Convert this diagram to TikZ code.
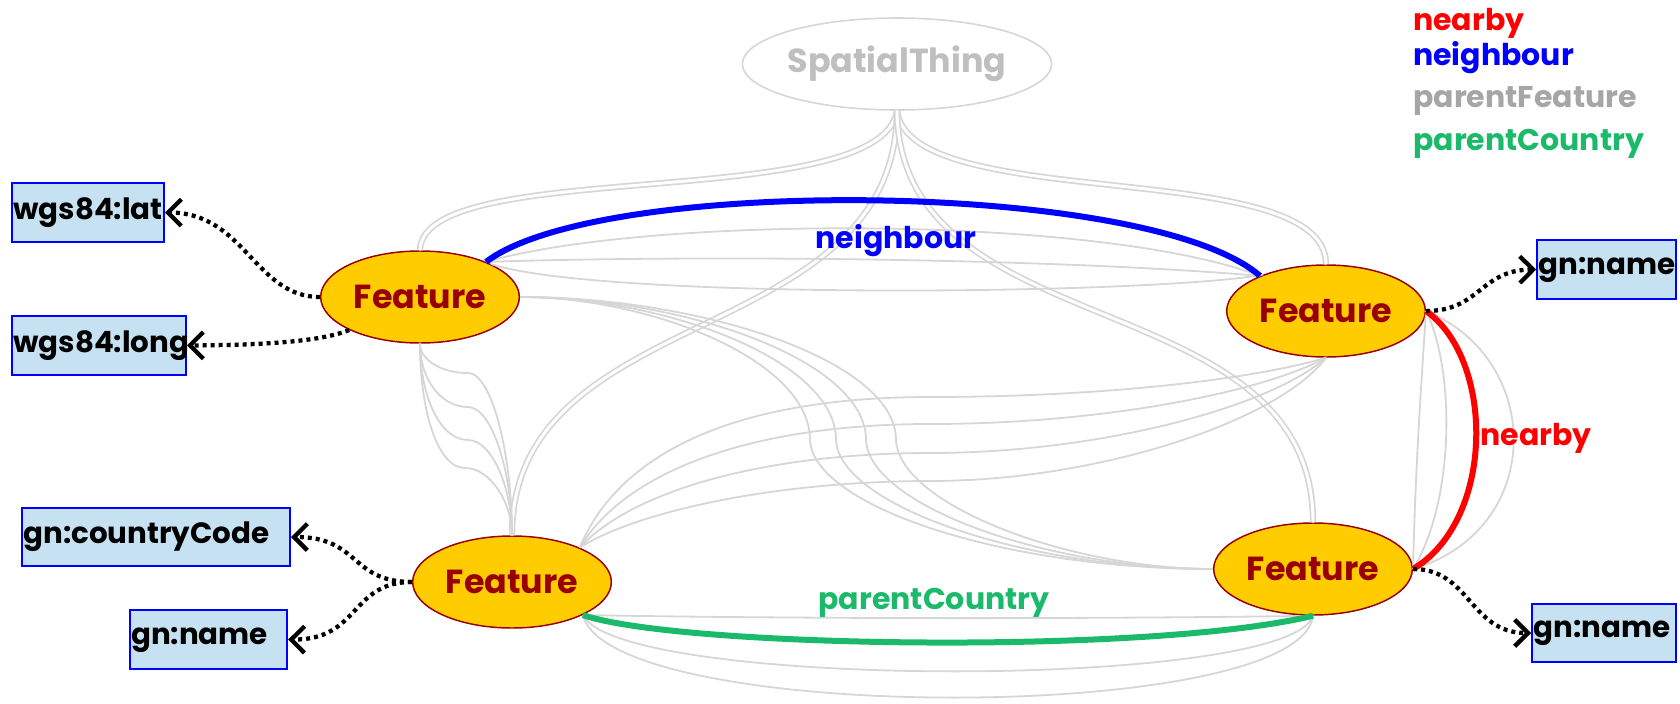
\documentclass[tikz,border=0pt]{standalone}
\usepackage{fontspec}
\setmainfont{Poppins}
\usetikzlibrary{arrows.meta,shapes.geometric}
\definecolor{gold}{HTML}{FFCC00}
\definecolor{dkred}{HTML}{990000}
\definecolor{boxblue}{HTML}{C6E2F2}
\definecolor{lgray}{HTML}{D6D6D6}
\definecolor{mgray}{HTML}{A6A6A6}
\definecolor{stgray}{HTML}{BFBFBF}
\definecolor{pgreen}{HTML}{1BBA6A}
\begin{document}
\begin{tikzpicture}[x=0.75pt,y=-0.75pt,
  feat/.style={ellipse, draw=dkred, line width=1.1pt, fill=gold, minimum width=149pt, minimum height=69pt, inner sep=0pt, text=dkred, font=\bfseries\fontsize{25}{30}\selectfont},
  stnode/.style={ellipse, draw=lgray, line width=1.2pt, fill=white, minimum width=231pt, minimum height=69pt, inner sep=0pt, text=stgray, font=\bfseries\fontsize{25}{30}\selectfont},
  prop/.style={rectangle, draw=blue, line width=1.5pt, fill=boxblue, minimum height=44pt, inner xsep=1pt, align=left, font=\bfseries\fontsize{22}{26}\selectfont},
  lab/.style={font=\bfseries\fontsize{22.5}{27}\selectfont, inner sep=0pt},
  gedge/.style={draw=lgray, line width=1.35pt},
  gpair/.style={draw=lgray, line width=1.3pt, double=white, double distance=2.2pt},
  thick3/.style={line width=4.5pt},
  dotarr/.style={draw=black, line width=3.2pt, dash pattern=on 3pt off 3pt, -{Straight Barb[length=10pt,width=20pt]}}
]
\useasboundingbox (0,0) rectangle (1680,703);

% nodes
\node[stnode] (st) at (897,64) {SpatialThing};
\node[feat] (tl) at (420,297) {Feature};
\node[feat] (tr) at (1326,311) {Feature};
\node[feat] (bl) at (512,582) {Feature};
\node[feat] (br) at (1313,569) {Feature};

\node[prop, text width=112pt] (lat) at (88,212.5) {wgs84:lat};
\node[prop, text width=128.5pt] (long) at (99,345.5) {wgs84:long};
\node[prop, text width=199pt] (cc) at (156,537) {gn:countryCode};
\node[prop, text width=116pt] (blname) at (208.5,639.5) {gn:name};
\node[prop, text width=102pt] (trname) at (1606.5,269.5) {gn:name};
\node[prop, text width=106pt] (brname) at (1604,633) {gn:name};

% legend
\node[lab, anchor=base west, text=red] (lg1) at (1413,30) {nearby};
\node[lab, anchor=base west, text=blue] (lg2) at (1413,65) {neighbour};
\node[lab, anchor=base west, text=mgray] (lg3) at (1413,107) {parentFeature};
\node[lab, anchor=base west, text=pgreen] (lg4) at (1413,150) {parentCountry};

% SpatialThing pairs
\draw[gpair] (st.south) .. controls (880,215) and (422,155) .. (tl.north);
\draw[gpair] (st.south) .. controls (910,215) and (1326,155) .. (tr.north);
\draw[gpair] (st.south) .. controls (895,350) and (512,300) .. (bl.north);
\draw[gpair] (st.south) .. controls (900,350) and (1313,280) .. (br.north);

% TL - TR
\draw[gedge] (tl.28) .. controls (650,215) and (1100,215) .. (tr.152);
\draw[gedge] (tl.28) .. controls (700,255) and (1050,258) .. (tr.152);
\draw[gedge] (tl.25) .. controls (600,300) and (1150,295) .. (tr.150);

% TL - BR bundle
\draw[gedge] (tl.east) .. controls (650,297) and (810,360) .. (810,440) .. controls (813,505) and (1000,569) .. (br.west);
\draw[gedge] (tl.east) .. controls (665,297) and (836,360) .. (836,440) .. controls (839,505) and (1023,569) .. (br.west);
\draw[gedge] (tl.east) .. controls (683,297) and (866,360) .. (866,440) .. controls (869,505) and (1046,569) .. (br.west);
\draw[gedge] (tl.east) .. controls (700,297) and (896,360) .. (896,440) .. controls (899,505) and (1070,569) .. (br.west);

% BL - TR bundle
\draw[gedge] (bl.27) .. controls (625,440) and (760,397) .. (930,397) .. controls (1100,397) and (1250,380) .. (tr.south);
\draw[gedge] (bl.27) .. controls (630,465) and (765,424) .. (930,424) .. controls (1100,424) and (1260,393) .. (tr.south);
\draw[gedge] (bl.27) .. controls (635,488) and (772,453) .. (930,453) .. controls (1100,453) and (1270,407) .. (tr.south);
\draw[gedge] (bl.27) .. controls (640,510) and (780,481) .. (930,481) .. controls (1100,481) and (1280,420) .. (tr.south);

% TL - BL fan
\draw[gedge] (tl.south) .. controls (420,359) and (440,373) .. (468,373) .. controls (492,373) and (512,455) .. (bl.north);
\draw[gedge] (tl.south) .. controls (420,378) and (440,407) .. (468,407) .. controls (492,407) and (512,472) .. (bl.north);
\draw[gedge] (tl.south) .. controls (420,396) and (440,440) .. (468,440) .. controls (492,440) and (512,488) .. (bl.north);
\draw[gedge] (tl.south) .. controls (420,412) and (438,468) .. (465,468) .. controls (490,468) and (512,502) .. (bl.north);

% BL - BR
\draw[gedge] (bl.-25) .. controls (800,619) and (1100,619) .. (br.south);
\draw[gedge] (bl.-25) .. controls (620,690) and (1290,690) .. (br.south);
\draw[gedge] (bl.-25) .. controls (610,725) and (1300,725) .. (br.south);

% TR - BR
\draw[gedge] (tr.east) .. controls (1420,400) and (1415,480) .. (br.east);
\draw[gedge] (tr.east) .. controls (1455,370) and (1455,500) .. (br.east);
\draw[gedge] (tr.east) .. controls (1545,360) and (1545,530) .. (br.east);

% coloured relations
\draw[blue, thick3] (tl.28) .. controls (600,175) and (1150,180) .. (tr.152);
\draw[red, thick3] (tr.east) .. controls (1495,360) and (1495,520) .. (br.east);
\draw[pgreen, thick3] (bl.-25) .. controls (680,648) and (1150,655) .. (br.south);

\node[lab, text=blue] (nbl) at (896,241) {neighbour};
\node[lab, text=red] (nyl) at (1536,438) {nearby};
\node[lab, text=pgreen] (pcl) at (934,603) {parentCountry};

% dotted property arrows
\draw[dotarr] (tl.west) .. controls (255,297) and (245,213) .. (lat.east);
\draw[dotarr] (tl.205) .. controls (320,342) and (260,345) .. (long.east);
\draw[dotarr] (bl.west) .. controls (350,582) and (360,537) .. (cc.east);
\draw[dotarr] (bl.west) .. controls (350,582) and (360,640) .. (blname.east);
\draw[dotarr] (tr.east) .. controls (1480,311) and (1480,270) .. (trname.west);
\draw[dotarr] (br.east) .. controls (1470,569) and (1470,633) .. (brname.west);
\end{tikzpicture}
\end{document}
